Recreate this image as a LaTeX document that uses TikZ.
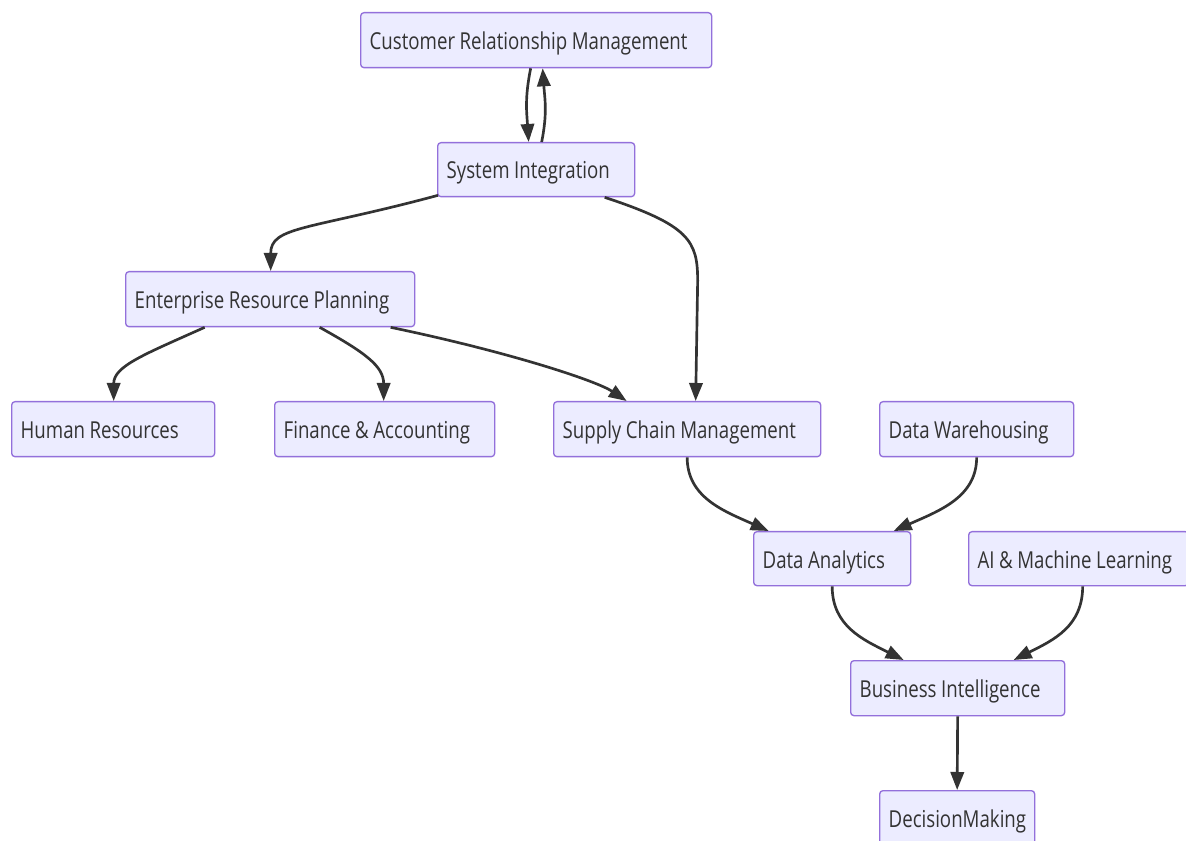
\documentclass[tikz,border=0pt]{standalone}
\usepackage{fontspec}
\newfontfamily\diafont[FakeStretch=0.8]{Open Sans}
\usetikzlibrary{calc,arrows.meta}
\definecolor{boxfill}{HTML}{ECECFF}
\definecolor{boxline}{HTML}{9370DB}
\definecolor{ink}{HTML}{333333}
\newcommand\lbl[1]{\spaceskip=3.4pt plus 1pt\relax\mbox{#1}}
\tikzset{
  box/.style={draw=boxline, fill=boxfill, line width=1pt, rounded corners=2.5pt,
    anchor=north west, minimum height=41.25pt, inner xsep=6.75pt, inner ysep=0pt,
    text height=16pt, text depth=2pt,
    align=left, text=ink, font=\diafont\fontsize{17.5pt}{20pt}\selectfont},
  arr/.style={draw=ink, line width=2pt, -{Triangle[length=13.5pt,width=10pt]}},
}
\begin{document}
\begin{tikzpicture}[x=0.75pt,y=-0.75pt]
\clip (0,0) rectangle (1186,841);
\fill[white] (0,0) rectangle (1186,841);
\node[box, minimum width=263.25pt, text width=249.75pt] (crm) at (360,12) {\lbl{Customer Relationship Management}};
\node[box, minimum width=147.75pt, text width=134.25pt, minimum height=40.5pt] (si) at (437,142) {\lbl{System Integration}};
\node[box, minimum width=216.75pt, text width=203.25pt] (erp) at (125,271) {\lbl{Enterprise Resource Planning}};
\node[box, minimum width=152.25pt, text width=138.75pt] (hr) at (11,401) {\lbl{Human Resources}};
\node[box, minimum width=165pt, text width=151.5pt] (fa) at (274,401) {\lbl{Finance \& Accounting}};
\node[box, minimum width=200.25pt, text width=186.75pt] (scm) at (553,401) {\lbl{Supply Chain Management}};
\node[box, minimum width=145.5pt, text width=132pt] (dw) at (879,401) {\lbl{Data Warehousing}};
\node[box, minimum width=117.75pt, text width=104.25pt, minimum height=40.5pt] (da) at (753,531) {\lbl{Data Analytics}};
\node[box, minimum width=165pt, text width=151.5pt, minimum height=40.5pt] (ai) at (968,531) {\lbl{AI \& Machine Learning}};
\node[box, minimum width=160.5pt, text width=147pt] (bi) at (850,660) {\lbl{Business Intelligence}};
\node[box, minimum width=116.25pt, text width=102.75pt] (dm) at (879,790) {\lbl{DecisionMaking}};

\draw[arr] ($(crm.south)+(-5.5,0)$) .. controls +(-6,30) and +(-2,-30) .. ($(si.north)+(-7.5,0)$);
\draw[arr] ($(si.north)+(5.5,0)$) .. controls +(6,-30) and +(2,30) .. ($(crm.south)+(6.5,0)$);
\draw[arr] ($(si.south west)+(1,-2)$) .. controls +(-130,35) and +(0,-45) .. ($(erp.north)+(0.5,0)$);
\draw[arr] ($(si.south)+(68.5,0)$) .. controls +(85,28) and +(0,-40) .. ($(scm.north)+(10.5,-120)$) -- ($(scm.north)+(8.5,0)$);
\draw[arr] ($(erp.south)+(-65.5,0)$) .. controls +(-60,27) and +(0,-35) .. ($(hr.north)+(0.5,0)$);
\draw[arr] ($(erp.south)+(49.5,0)$) .. controls +(45,25) and +(0,-35) .. ($(fa.north)+(-1,0)$);
\draw[arr] ($(erp.south)+(120.5,0)$) .. controls +(120,25) and +(-30,-20) .. ($(scm.north)+(-60.5,0)$);
\draw[arr] (scm.south) .. controls +(0,40) and +(-45,-20) .. ($(da.north)+(-63.5,0)$);
\draw[arr] (dw.south) .. controls +(0,40) and +(45,-20) .. ($(da.north)+(61.5,0)$);
\draw[arr] (da.south) .. controls +(0,40) and +(-40,-20) .. ($(bi.north)+(-54,0)$);
\draw[arr] ($(ai.south)+(4,0)$) .. controls +(0,40) and +(40,-20) .. ($(bi.north)+(56,0)$);
\draw[arr] (bi.south) -- (dm.north);
\end{tikzpicture}
\end{document}
